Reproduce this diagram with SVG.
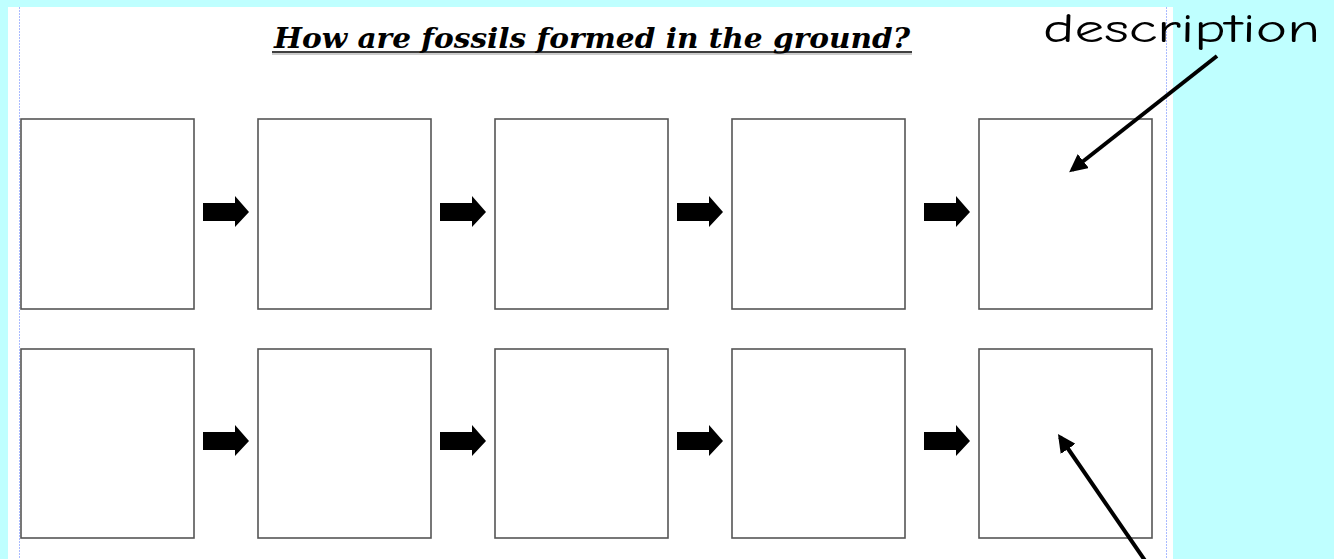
<svg xmlns="http://www.w3.org/2000/svg" width="1334" height="559" viewBox="0 0 1334 559">
<defs>
<style>
.box{fill:#fff;stroke:#555;stroke-width:1.6}
.blk{fill:#000}
.guide{stroke:#aabbff;stroke-width:1;stroke-dasharray:2 1}
.ptr{stroke:#000;stroke-width:4;fill:none;marker-end:url(#ah)}
</style>
<marker id="ah" viewBox="0 0 10 10" refX="8" refY="5" markerWidth="4.5" markerHeight="4.5" orient="auto" markerUnits="strokeWidth">
<path d="M0,0 L10,5 L0,10 Z" fill="#000"/>
</marker>
<path id="barrow" d="M0,-9 H32 V-16 L46,0 L32,15 V9 H0 Z"/>
</defs>
<rect x="0" y="0" width="1334" height="559" fill="#bfffff"/>
<rect x="8" y="7" width="1165" height="552" fill="#fff"/>
<line class="guide" x1="19.5" y1="7" x2="19.5" y2="559"/>
<line class="guide" x1="1166.5" y1="7" x2="1166.5" y2="559"/>
<g id="title">
<text x="592" y="48" text-anchor="middle" font-family="'DejaVu Serif', serif" font-style="italic" font-weight="bold" font-size="27" textLength="636" lengthAdjust="spacingAndGlyphs">How are fossils formed in the ground?</text>
<line x1="272" y1="52" x2="912" y2="52" stroke="#000" stroke-width="1.5"/>
<line x1="272" y1="54" x2="912" y2="54" stroke="#999" stroke-width="1"/>
</g>
<g id="label-description">
<text x="1043" y="42" font-family="'Comic Neue','DejaVu Sans', sans-serif" font-size="40" textLength="277" lengthAdjust="spacingAndGlyphs">description</text>
</g>
<g id="nodes">
<g id="n1"><rect class="box" x="21" y="119" width="173" height="190"/></g>
<g id="n2"><rect class="box" x="258" y="119" width="173" height="190"/></g>
<g id="n3"><rect class="box" x="495" y="119" width="173" height="190"/></g>
<g id="n4"><rect class="box" x="732" y="119" width="173" height="190"/></g>
<g id="n5"><rect class="box" x="979" y="119" width="173" height="190"/></g>
<g id="n6"><rect class="box" x="21" y="349" width="173" height="189"/></g>
<g id="n7"><rect class="box" x="258" y="349" width="173" height="189"/></g>
<g id="n8"><rect class="box" x="495" y="349" width="173" height="189"/></g>
<g id="n9"><rect class="box" x="732" y="349" width="173" height="189"/></g>
<g id="n10"><rect class="box" x="979" y="349" width="173" height="189"/></g>
</g>
<g id="connectors">
<use href="#barrow" class="blk" x="203" y="212"/>
<use href="#barrow" class="blk" x="440" y="212"/>
<use href="#barrow" class="blk" x="677" y="212"/>
<use href="#barrow" class="blk" x="924" y="212"/>
<use href="#barrow" class="blk" x="203" y="441"/>
<use href="#barrow" class="blk" x="440" y="441"/>
<use href="#barrow" class="blk" x="677" y="441"/>
<use href="#barrow" class="blk" x="924" y="441"/>
<line class="ptr" x1="1217" y1="56" x2="1072" y2="170"/>
<line class="ptr" x1="1146" y1="562" x2="1060" y2="437"/>
</g>
</svg>
